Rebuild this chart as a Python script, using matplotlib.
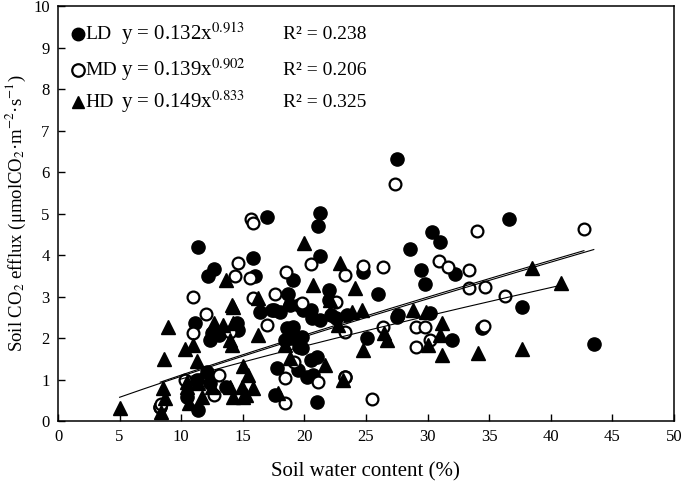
import matplotlib
matplotlib.use("Agg")
import matplotlib.pyplot as plt
import numpy as np

plt.rcParams['font.family'] = ['Liberation Serif', 'DejaVu Serif']
plt.rcParams['mathtext.fontset'] = 'stix'

# LD (filled circles): soil water content (%), soil CO2 efflux
ld_x = [27.5, 21.3, 21.1, 17.0, 11.4, 15.8, 12.7, 12.2, 16.0, 28.6, 30.4, 31.0, 29.5, 29.8,
        32.2, 21.3, 19.1, 18.7, 22.0, 24.8, 26.0, 36.6, 37.7, 34.4, 43.5, 17.5, 18.0, 19.9,
        20.6, 21.3, 22.0, 22.2, 22.6, 23.5, 27.6, 30.2, 25.1, 19.1, 19.0, 19.8, 18.4, 19.8,
        32.0, 17.8, 19.5, 20.5, 21.0, 20.2, 20.7, 17.6, 21.0, 23.3, 11.1, 12.5, 12.3, 12.1,
        12.3, 11.3, 10.5, 11.4, 8.3, 16.4, 17.4, 18.8, 19.6, 13.1, 14.5, 14.6, 18.6, 19.6,
        13.6, 20.5, 27.5]
ld_y = [6.31, 5.01, 4.70, 4.92, 4.19, 3.93, 3.66, 3.49, 3.49, 4.14, 4.55, 4.31, 3.64, 3.30,
        3.54, 3.98, 3.40, 3.06, 3.16, 3.59, 3.06, 4.87, 2.75, 2.24, 1.86, 2.67, 2.63, 2.67,
        2.48, 2.43, 2.92, 2.55, 2.48, 2.55, 2.55, 2.60, 2.00, 2.27, 2.00, 2.02, 1.95, 1.76,
        1.95, 1.28, 1.23, 1.47, 1.54, 1.06, 1.11, 0.63, 0.46, 1.06, 2.36, 2.12, 1.95, 1.18,
        0.92, 0.99, 0.58, 0.27, 0.34, 2.63, 2.67, 2.80, 2.80, 2.07, 2.36, 2.19, 2.24, 1.78,
        0.82, 2.67, 2.51]

# MD (open circles)
md_x = [27.4, 15.7, 15.8, 14.6, 14.4, 15.6, 11.0, 12.0, 11.0, 17.6, 18.5, 20.5, 23.3, 24.8,
        26.4, 30.9, 31.7, 33.4, 34.0, 33.4, 34.7, 42.7, 36.3, 34.6, 26.4, 29.1, 29.8, 30.2,
        29.1, 25.5, 18.4, 18.4, 21.1, 22.6, 19.8, 23.3, 15.8, 17.0, 14.0, 13.1, 12.7, 19.2,
        10.3, 8.3, 8.4, 23.3]
md_y = [5.71, 4.87, 4.78, 3.81, 3.49, 3.45, 2.99, 2.58, 2.12, 3.06, 3.59, 3.78, 3.52, 3.73,
        3.71, 3.86, 3.71, 3.64, 4.58, 3.20, 3.23, 4.63, 3.01, 2.29, 2.27, 2.27, 2.27, 1.95,
        1.78, 0.53, 1.04, 0.43, 0.94, 2.87, 2.84, 2.14, 2.96, 2.31, 2.14, 1.11, 0.63, 1.42,
        0.99, 0.34, 0.40, 1.06]

# HD (filled triangles)
hd_x = [5.0, 8.9, 8.6, 10.3, 11.0, 11.3, 14.1, 12.7, 13.4, 14.2, 14.1, 16.2, 16.2, 15.0,
        15.4, 8.5, 8.7, 8.4, 10.5, 10.5, 10.6, 11.7, 11.4, 12.5, 14.0, 14.9, 14.2, 15.0,
        15.8, 13.6, 14.2, 14.0, 18.7, 18.6, 18.4, 18.8, 15.3, 20.0, 20.7, 22.9, 24.1, 22.1,
        22.1, 23.9, 24.7, 22.7, 26.5, 26.7, 24.8, 21.7, 23.1, 28.8, 29.9, 31.2, 31.0, 30.0,
        31.2, 34.1, 38.5, 40.8, 37.7, 17.9]
hd_y = [0.31, 2.27, 1.49, 1.73, 1.83, 1.45, 2.80, 2.36, 2.31, 2.36, 1.83, 2.07, 2.96, 1.33,
        1.11, 0.80, 0.55, 0.22, 0.94, 0.82, 0.43, 0.58, 0.92, 0.82, 0.82, 0.82, 0.58, 0.58,
        0.80, 3.40, 2.75, 1.95, 2.87, 2.02, 1.83, 1.52, 0.63, 4.29, 3.28, 3.81, 3.20, 2.92,
        2.63, 2.63, 2.67, 2.31, 2.12, 1.95, 1.71, 1.35, 0.99, 2.67, 2.63, 2.36, 2.07, 1.83,
        1.59, 1.64, 3.69, 3.32, 1.73, 0.67]

# power-law fits y = a * x^b and the x range each trendline covers
groups = ['LD', 'MD', 'HD']
fit_a = [0.132, 0.139, 0.149]
fit_b = [0.913, 0.902, 0.833]
fit_r2 = [0.238, 0.206, 0.325]
fit_range = [(5.0, 43.5), (8.3, 42.7), (9.9, 40.8)]

fig = plt.figure(figsize=(6.85, 4.84), dpi=100)
ax = fig.add_axes([0.0847, 0.130, 0.899, 0.857])

ms = 9.5
ax.plot(ld_x, ld_y, 'o', ms=ms, color='black', mec='black', ls='none')
ax.plot(md_x, md_y, 'o', ms=ms - 1, mfc='white', mec='black', mew=1.6, ls='none')
ax.plot(hd_x, hd_y, '^', ms=ms + 0.5, color='black', ls='none')

for a, b, (x0, x1) in zip(fit_a, fit_b, fit_range):
    xs = np.linspace(x0, x1, 200)
    ax.plot(xs, a * xs ** b, color='black', lw=0.8)

# legend written as text beside marker glyphs
markers = [dict(marker='o', mfc='black'), dict(marker='o', mfc='white', mew=1.6),
           dict(marker='^', mfc='black')]
rows = [0.933, 0.846, 0.769]
for g, a, b, r2, mk, yy in zip(groups, fit_a, fit_b, fit_r2, markers, rows):
    ax.plot([0.032], [yy], transform=ax.transAxes, ms=ms - 0.5, mec='black', ls='none',
            clip_on=False, **mk)
    ax.text(0.045, yy, g, transform=ax.transAxes, fontsize=14, va='center')
    ax.text(0.102, yy, f'y = {a:.3f}x$^{{{b:.3f}}}$', transform=ax.transAxes,
            fontsize=15, va='center')
    ax.text(0.365, yy, f'R² = {r2:.3f}', transform=ax.transAxes, fontsize=14, va='center')

ax.set_xlim(0, 50)
ax.set_ylim(0, 10)
ax.set_xticks(np.arange(0, 51, 5))
ax.set_yticks(np.arange(0, 11, 1))
ax.tick_params(direction='in', length=5, width=1, labelsize=12, pad=6)
for s in ax.spines.values():
    s.set_linewidth(1.1)

ax.set_xlabel('Soil water content (%)', fontsize=15, labelpad=12)
ax.set_ylabel('Soil CO$_2$ efflux (μmolCO$_2$·m$^{-2}$·s$^{-1}$)', fontsize=13.5, labelpad=4)

fig.savefig('out.png', dpi=100)
